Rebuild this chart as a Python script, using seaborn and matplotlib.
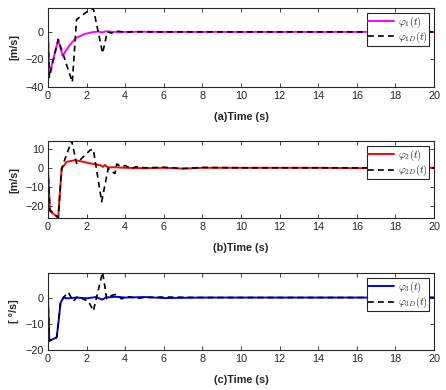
import numpy as np
import pandas as pd
import matplotlib
matplotlib.use("Agg")
import matplotlib.pyplot as plt
import seaborn as sns

# ---------------- data ----------------
t1 = [0, 0.07, 0.53, 0.76, 1.1, 1.45, 1.9, 2.3, 2.6, 2.8, 3.0, 3.4, 4, 5, 6, 8, 10, 12, 14, 16, 18, 20]
phi1 = [0, -31, -5.5, -17.4, -10, -4.5, -1.5, -0.2, 0.3, -0.4, 0.4, 0, 0, 0.1, 0, 0, 0, 0, 0, 0, 0, 0]
td1 = [0, 0.07, 0.53, 1.26, 1.48, 2.0, 2.35, 2.83, 3.07, 3.3, 3.6, 4.0, 4.5, 5, 6, 8, 10, 12, 14, 16, 18, 20]
phid1 = [0, -33, -5.5, -36.5, 9, 14.5, 17, -15.5, 0, -0.8, 0.5, -0.3, 0.2, 0, 0, 0, 0, 0, 0, 0, 0, 0]

t2 = [0, 0.1, 0.53, 0.6, 0.71, 0.97, 1.4, 1.8, 2.18, 2.7, 2.85, 2.95, 3.1, 3.4, 4, 5, 6, 7, 8, 10, 12, 14, 16, 18, 20]
phi2 = [0, -22.6, -26, -15, -0.3, 3.1, 4, 3.2, 2.3, 1.4, 0.5, 1.5, 0.2, 0.3, 0, -0.2, 0, -0.4, 0, 0, 0, 0, -0.2, 0, 0]
td2 = [0, 0.1, 0.53, 0.71, 1.0, 1.23, 1.48, 2.18, 2.35, 2.78, 3.12, 3.3, 3.47, 3.56, 3.8, 4.0, 4.3, 4.6, 5, 6, 7, 8, 10, 12, 14, 16, 18, 20]
phid2 = [0, -22, -26, -0.3, 8, 14, 2.3, 9.2, 9.6, -17.7, -0.3, -2, -3, 2, 0.5, 1.2, -0.3, 0.6, 0, 0.3, -0.4, 0.2, 0, 0, 0, 0, 0, 0]

t3 = [0, 0.07, 0.45, 0.55, 0.65, 0.8, 1.0, 1.5, 2, 2.5, 2.8, 3.0, 3.5, 4, 5, 6, 8, 10, 12, 14, 16, 18, 20]
phi3 = [0, -16.5, -15.2, -9, -2, 0, -0.3, 0, -0.3, 0.2, -0.8, 0, 0.3, 0, 0.2, -0.2, 0, 0, 0, 0, 0, 0, 0]
td3 = [0, 0.07, 0.45, 0.65, 0.8, 1.05, 1.31, 1.55, 1.83, 2.1, 2.35, 2.83, 3.04, 3.3, 3.56, 3.8, 4.2, 4.6, 5, 6, 8, 10, 12, 14, 16, 18, 20]
phid3 = [0, -16.5, -15.2, -2, 0, 2, -1.4, 0.5, -0.6, -1.5, -5.1, 9.7, -0.4, 0.8, 1.3, -0.5, 0.3, -0.3, 0, 0.2, 0, 0, 0, 0, 0, 0, 0]

xticks = list(range(0, 21, 2))
xlabels = ["(a)Time (s)", "(b)Time (s)", "(c)Time (s)"]
ylabels = ["[m/s]", "[m/s]", "[ °/s]"]
leg_main = [r"$\varphi_1(t)$", r"$\varphi_2(t)$", r"$\varphi_3(t)$"]
leg_des = [r"$\varphi_{1D}(t)$", r"$\varphi_{2D}(t)$", r"$\varphi_{3D}(t)$"]
colors = ["#ff00ff", "#ff0000", "#0000ff"]
ylims = [(-40, 17.4), (-26.2, 13.9), (-20, 9.3)]
yticks = [[-40, -20, 0], [-20, -10, 0, 10], [-20, -10, 0]]

# ---------------- style ----------------
sns.set_style("ticks")
plt.rcParams["font.family"] = ["Liberation Sans", "DejaVu Sans"]
plt.rcParams["mathtext.fontset"] = "cm"
plt.rcParams["axes.linewidth"] = 0.8
plt.rcParams["axes.edgecolor"] = "#262626"

fig = plt.figure(figsize=(4.46, 3.9), dpi=100)
positions = [
    (0.1076, 0.777, 0.8655, 0.2026),
    (0.1076, 0.441, 0.8655, 0.197),
    (0.1076, 0.1026, 0.8655, 0.197),
]

series = [(t1, phi1, td1, phid1), (t2, phi2, td2, phid2), (t3, phi3, td3, phid3)]

for i, (ta, ya, tb, yb) in enumerate(series):
    ax = fig.add_axes(positions[i])
    df_a = pd.DataFrame({"t": ta, "v": ya})
    df_b = pd.DataFrame({"t": tb, "v": yb})
    sns.lineplot(data=df_a, x="t", y="v", ax=ax, color=colors[i], lw=1.4,
                 estimator=None, sort=False, label=leg_main[i])
    sns.lineplot(data=df_b, x="t", y="v", ax=ax, color="black", lw=1.2,
                 estimator=None, sort=False, label=leg_des[i], dashes=False)
    ax.lines[-1].set_linestyle((0, (3.5, 2.5)))
    ax.set_xlim(0, 20)
    ax.set_ylim(*ylims[i])
    ax.set_xticks(xticks)
    ax.set_yticks(yticks[i])
    ax.tick_params(direction="in", top=True, right=True, length=3, width=0.6,
                   labelsize=7.8, colors="#262626", pad=3)
    for lab in ax.get_xticklabels() + ax.get_yticklabels():
        lab.set_color("#262626")
    ax.set_xlabel(xlabels[i], fontsize=7.8, fontweight="bold", labelpad=8, color="#262626")
    ax.set_ylabel(ylabels[i], fontsize=7.8, fontweight="bold", color="#262626")
    ax.yaxis.set_label_coords(-0.075, 0.5)
    leg = ax.legend(loc="upper right", fontsize=7.5, frameon=True, fancybox=False,
                    edgecolor="#262626", framealpha=1, borderaxespad=0.5,
                    handlelength=2.5, handletextpad=0.3, borderpad=0.12,
                    labelspacing=0.0, handleheight=0.6)
    leg.get_frame().set_linewidth(0.8)

fig.savefig("out.png", dpi=100, facecolor="white")
